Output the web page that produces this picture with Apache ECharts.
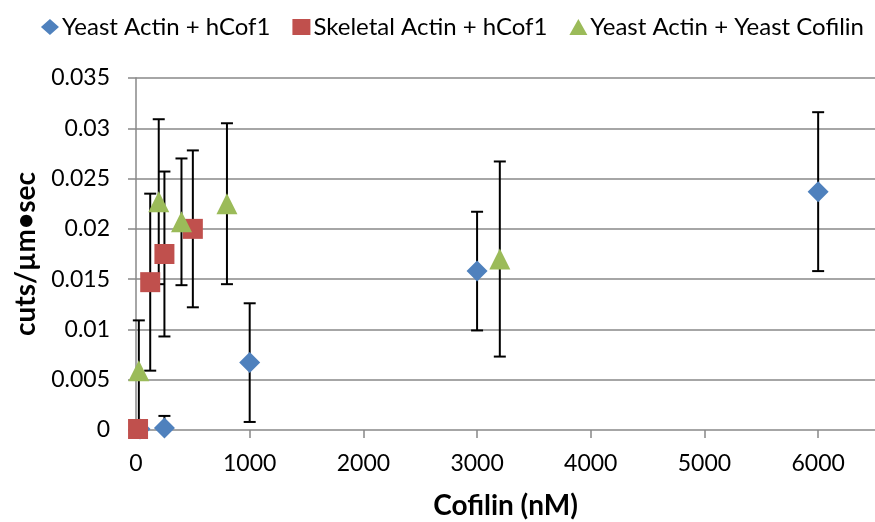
<!DOCTYPE html>
<html>
<head>
<meta charset="utf-8">
<script src="https://cdn.jsdelivr.net/npm/echarts@6/dist/echarts.min.js"></script>
<style>
html,body{margin:0;padding:0;background:#fff;}
#chart{width:875px;height:522px;}
</style>
</head>
<body>
<div id="chart"></div>
<script>
// ---- data ----
const seriesNames = ['Yeast Actin + hCof1', 'Skeletal Actin + hCof1', 'Yeast Actin + Yeast Cofilin'];

const yeastHcofX   = [35, 250, 1000, 3000, 6000];
const yeastHcofY   = [0.0001, 0.0002, 0.0067, 0.0158, 0.0237];
const yeastHcofErr = [0.0002, 0.0012, 0.0059, 0.0059, 0.0079];

const skelHcofX   = [18, 125, 250, 500];
const skelHcofY   = [0.0001, 0.0147, 0.0175, 0.0200];
const skelHcofErr = [0.0001, 0.0088, 0.0082, 0.0078];

const yeastYeastX   = [25, 200, 400, 800, 3200];
const yeastYeastY   = [0.0059, 0.0227, 0.0207, 0.0225, 0.0170];
const yeastYeastErr = [0.0050, 0.0082, 0.0063, 0.0080, 0.0097];

const colors = ['#4F81BD', '#C0504D', '#9BBB59'];
const symbols = ['diamond', 'rect', 'triangle'];

// ---- build ----
const FONT = 'Lato';
function pts(xs, ys) { return xs.map((x, i) => [x, ys[i]]); }
function errs(xs, ys, es) { return xs.map((x, i) => [x, ys[i] - es[i], ys[i] + es[i]]); }

const groups = [
  [yeastHcofX, yeastHcofY, yeastHcofErr],
  [skelHcofX, skelHcofY, skelHcofErr],
  [yeastYeastX, yeastYeastY, yeastYeastErr]
];

function renderErr(params, api) {
  const x = api.value(0);
  const lo = api.value(1), hi = api.value(2);
  const loC = Math.max(0, lo);
  const pHi = api.coord([x, hi]);
  const pLo = api.coord([x, loC]);
  const cap = 6;
  const children = [
    { type: 'line', shape: { x1: pHi[0], y1: pHi[1], x2: pLo[0], y2: pLo[1] }, style: { stroke: '#000', lineWidth: 2 } },
    { type: 'line', shape: { x1: pHi[0] - cap, y1: pHi[1], x2: pHi[0] + cap, y2: pHi[1] }, style: { stroke: '#000', lineWidth: 2 } }
  ];
  if (lo >= 0) {
    children.push({ type: 'line', shape: { x1: pLo[0] - cap, y1: pLo[1], x2: pLo[0] + cap, y2: pLo[1] }, style: { stroke: '#000', lineWidth: 2 } });
  }
  return { type: 'group', children };
}

const series = [];
groups.forEach((g, i) => {
  series.push({
    type: 'custom',
    name: seriesNames[i] + ' err',
    renderItem: renderErr,
    data: errs(g[0], g[1], g[2]),
    encode: { x: 0, y: [1, 2] },
    z: 1,
    silent: true,
    clip: false
  });
});
groups.forEach((g, i) => {
  series.push({
    type: 'scatter',
    name: seriesNames[i],
    data: pts(g[0], g[1]),
    symbol: symbols[i],
    symbolSize: i === 1 ? 20 : 21,
    itemStyle: { color: colors[i], opacity: 1 },
    z: 3 + i
  });
});

const chart = echarts.init(document.getElementById('chart'), null, { renderer: 'canvas' });
chart.setOption({
  animation: false,
  backgroundColor: '#fff',
  textStyle: { fontFamily: FONT, color: '#000' },
  legend: {
    data: seriesNames.map((n, i) => ({ name: n, icon: symbols[i] })),
    right: 6,
    top: 10,
    itemWidth: 18,
    itemHeight: 16,
    itemGap: 22,
    textStyle: { fontFamily: FONT, fontSize: 24, color: '#000', padding: [0, 0, 0, -2] }
  },
  grid: { left: 136, right: 0, top: 78, bottom: 92, containLabel: false, outerBoundsMode: 'none' },
  xAxis: {
    type: 'value',
    min: 0, max: 6500, interval: 1000,
    name: 'Cofilin (nM)',
    nameLocation: 'middle',
    nameGap: 62,
    nameTextStyle: { fontFamily: FONT, fontWeight: 'bold', fontSize: 28, color: '#000' },
    axisLine: { show: false },
    axisTick: { show: true, length: 8, lineStyle: { color: '#888', width: 1.5 } },
    axisLabel: {
      margin: 22, fontSize: 23, color: '#000', fontFamily: FONT,
      formatter: v => (v % 1000 === 0 ? String(v) : ''),
      showMaxLabel: false
    },
    splitLine: { show: false }
  },
  yAxis: {
    type: 'value',
    min: 0, max: 0.035, interval: 0.005,
    name: 'cuts/µm•sec',
    nameLocation: 'middle',
    nameGap: 94,
    nameTextStyle: { fontFamily: FONT, fontWeight: 'bold', fontSize: 28, color: '#000' },
    axisLine: { show: true, lineStyle: { color: '#888', width: 1.5 } },
    axisTick: { show: true, length: 8, lineStyle: { color: '#888', width: 1.5 } },
    axisLabel: { margin: 26, fontSize: 23, color: '#000', fontFamily: FONT,
      formatter: v => String(+v.toFixed(3)) },
    splitLine: { show: true, lineStyle: { color: '#888', width: 1.5 } }
  },
  series
});
</script>
</body>
</html>
